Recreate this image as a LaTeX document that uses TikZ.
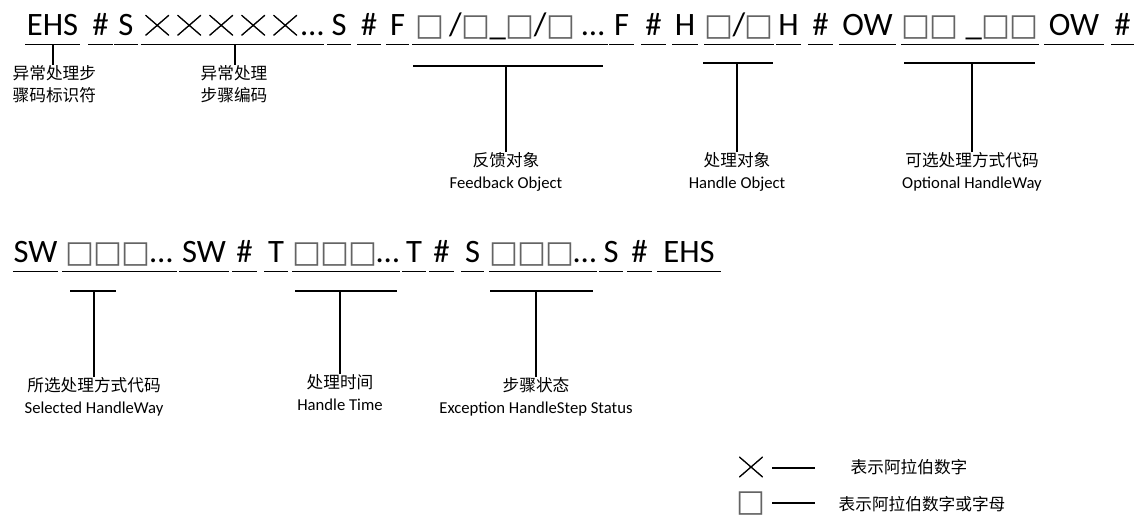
\documentclass[tikz,border=0pt]{standalone}
\usepackage{graphicx}
\usepackage{fontspec}
\setmainfont{Carlito}
\newfontfamily\cjk{Noto Sans CJK SC}
\newfontfamily\xfont[FakeBold=1.8]{Noto Sans CJK SC}
\newfontfamily\symb{DejaVu Sans}
\definecolor{boxgray}{RGB}{100,100,100}
\newdimen\px \px=0.75pt
\newcommand\xsym{\raisebox{1.5pt}{\scalebox{1.1}[0.95]{\xfont\fontsize{16}{20}\selectfont ╳}}}
\newcommand\xx{\makebox[24pt]{\xsym}}
\newcommand\bsym{{\color{boxgray}\symb\fontsize{23}{26}\selectfont □}}
\newcommand\bb{\makebox[21pt]{\bsym}}
\begin{document}
\begin{tikzpicture}[x=0.75pt,y=-0.75pt,line width=1pt]
			\tikzset{tok/.style={inner sep=0pt,text height=24\px,text depth=9\px,anchor=base,minimum width=#1,font=\fontsize{24.5}{28}\selectfont},
				lbl/.style={inner sep=0pt,align=center,font=\cjk\fontsize{12.5}{16.5}\selectfont}}
			\useasboundingbox (0,0) rectangle (1144,519);
			% first row
			\node [tok=53\px] (ehsA) at (52.5,35) {EHS};
			\node [tok=23\px] (hs1) at (100.5,35) {\#};
			\node [tok=22\px] (sA) at (126,35) {S};
			\node [tok=181\px] (num) at (232.5,35) {\xx\xx\xx\xx\xx…};
			\node [tok=22\px] (sB) at (339,35) {S};
			\node [tok=22\px] (hs2) at (369,35) {\#};
			\node [tok=21\px] (fA) at (397.5,35) {F};
			\node [tok=194\px] (fobj) at (510,35) {\bb\,/\bb\_\bb/\bb\ …};
			\node [tok=23\px] (fB) at (621.5,35) {F};
			\node [tok=23\px] (hs3) at (653.5,35) {\#};
			\node [tok=24\px] (hA) at (685,35) {H};
			\node [tok=68\px] (hobj) at (739,35) {\bb/\bb};
			\node [tok=23\px] (hB) at (788.5,35) {H};
			\node [tok=23\px] (hs4) at (820.5,35) {\#};
			\node [tok=55\px] (owA) at (867.5,35) {OW};
			\node [tok=136\px] (owx) at (970,35) {\bb\bb\ \_\bb\bb};
			\node [tok=58\px] (owB) at (1074,35) {OW};
			\node [tok=21\px] (hs5) at (1122.5,35) {\#};
			% second row
			\node [tok=43\px] (swA) at (35.5,262) {SW};
			\node [tok=113\px] (swx) at (119.5,262) {\bb\bb\bb…};
			\node [tok=48\px] (swB) at (204,262) {SW};
			\node [tok=23\px] (hs6) at (244.5,262) {\#};
			\node [tok=22\px] (tA) at (276,262) {T};
			\node [tok=98\px] (tx) at (346,262) {\bb\bb\bb…};
			\node [tok=22\px] (tB) at (414,262) {T};
			\node [tok=23\px] (hs7) at (441.5,262) {\#};
			\node [tok=21\px] (sC) at (472.5,262) {S};
			\node [tok=100\px] (sx) at (543,262) {\bb\bb\bb…};
			\node [tok=22\px] (sD) at (611,262) {S};
			\node [tok=23\px] (hs8) at (639.5,262) {\#};
			\node [tok=62\px] (ehsB) at (689,262) {EHS};
			\foreach \n in {ehsA,hs1,sA,num,sB,hs2,fA,fobj,fB,hs3,hA,hobj,hB,hs4,owA,owx,owB,hs5,
				swA,swx,swB,hs6,tA,tx,tB,hs7,sC,sx,sD,hs8,ehsB}
				\draw (\n.south west) -- (\n.south east);
			% labels
			\node [lbl,anchor=north west,align=left] (ehsl) at (12,65) {异常处理步\\骤码标识符};
			\node [lbl,anchor=north west,align=left] (numl) at (200,65) {异常处理\\步骤编码};
			\node [lbl,anchor=north] (fobjl) at (506,152) {反馈对象\\{\normalfont\fontsize{12.5}{16.5}\selectfont Feedback Object}};
			\node [lbl,anchor=north] (hobjl) at (737,152) {处理对象\\{\normalfont\fontsize{12.5}{16.5}\selectfont Handle Object}};
			\node [lbl,anchor=north] (owxl) at (972,152) {可选处理方式代码\\{\normalfont\fontsize{12.5}{16.5}\selectfont Optional HandleWay}};
			\node [lbl,anchor=north] (swxl) at (94,377) {所选处理方式代码\\{\normalfont\fontsize{12.5}{16.5}\selectfont Selected HandleWay}};
			\node [lbl,anchor=north] (txl) at (340,374) {处理时间\\{\normalfont\fontsize{12.5}{16.5}\selectfont Handle Time}};
			\node [lbl,anchor=north] (sxl) at (536,377) {步骤状态\\{\normalfont\fontsize{12.5}{16.5}\selectfont Exception HandleStep Status}};
			% bars
			\coordinate (fbL) at (413,66); \coordinate (fbR) at (603,66);
			\coordinate (hbL) at (703,63); \coordinate (hbR) at (773,63);
			\coordinate (obL) at (904,63); \coordinate (obR) at (1035,63);
			\coordinate (sbL) at (70,291); \coordinate (sbR) at (116,291);
			\coordinate (tbL) at (295,291); \coordinate (tbR) at (397,291);
			\coordinate (xbL) at (490,291); \coordinate (xbR) at (593,291);
			\draw (fbL) -- (fbR) (hbL) -- (hbR) (obL) -- (obR) (sbL) -- (sbR) (tbL) -- (tbR) (xbL) -- (xbR);
			\draw (ehsA.south) ++(0.5,0) -- (ehsl.north west -| 53,0);
			\draw (235,44) -- (numl.north west -| 235,0);
			\draw (fobjl.north) -- (fobjl.north |- fbL);
			\draw (hobjl.north) -- (hobjl.north |- hbL);
			\draw (owxl.north) -- (owxl.north |- obL);
			\draw (swxl.north) -- (swxl.north |- sbL);
			\draw (txl.north) -- (txl.north |- tbL);
			\draw (sxl.north) -- (sxl.north |- xbL);
			% legend
			\node [inner sep=0pt] (lx) at (751,467) {\xsym};
			\node [lbl,anchor=west] (lxt) at (850,467) {表示阿拉伯数字};
			\node [inner sep=0pt] (lb) at (751,504) {\bsym};
			\node [lbl,anchor=west] (lbt) at (838,504) {表示阿拉伯数字或字母};
			\draw (772,468) -- (815,468);
			\draw (772,503) -- (815,503);
		\end{tikzpicture}
\end{document}
